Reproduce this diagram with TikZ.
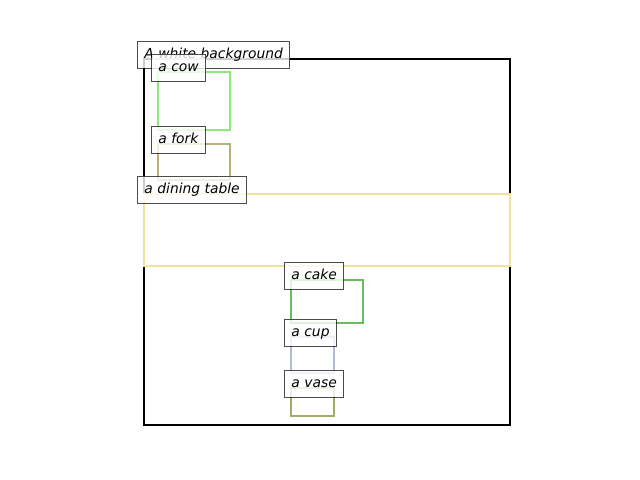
\documentclass[tikz,border=0pt]{standalone}
\usepackage{fontspec}
\setmainfont{DejaVu Sans}
\usepackage{tikz}
\definecolor{CowGreen}{RGB}{140,232,122}
\definecolor{ForkKhaki}{RGB}{184,176,118}
\definecolor{TableYellow}{RGB}{240,228,150}
\definecolor{CakeGreen}{RGB}{104,190,92}
\definecolor{CupBlue}{RGB}{178,186,214}
\definecolor{VaseOlive}{RGB}{162,172,102}
\tikzset{
every picture/.style={x=0.01in, y=-0.01in},
objbox/.style={line width=1.5pt},
tag/.style={anchor=base west, xshift=-5pt, draw=black, draw opacity=0.7, fill=white, fill opacity=0.8, text opacity=1, line width=0.7pt, inner xsep=5pt, inner ysep=4pt, text height=9pt, text depth=2.5pt, font=\itshape\fontsize{10pt}{12pt}\selectfont}
}

\begin{document}
\begin{tikzpicture}
\useasboundingbox (0,0) rectangle (640,480);
%Boxes
\draw[objbox, black] (144,59) coordinate (bg) rectangle (510,425);
\draw[objbox, CowGreen] (158,72) coordinate (cow) rectangle (230,130);
\draw[objbox, ForkKhaki] (158,144) coordinate (fork) rectangle (230,180);
\draw[objbox, TableYellow] (144,194) coordinate (table) rectangle (510,266);
\draw[objbox, CakeGreen] (291,280) coordinate (cake) rectangle (363,323);
\draw[objbox, CupBlue] (291,337) coordinate (cup) rectangle (334,373);
\draw[objbox, VaseOlive] (291,388) coordinate (vase) rectangle (334,416);

%Labels
\node[tag] (bglabel) at (bg) {A white background};
\node[tag] (cowlabel) at (cow) {a cow};
\node[tag] (forklabel) at (fork) {a fork};
\node[tag] (tablelabel) at (table) {a dining table};
\node[tag] (cakelabel) at (cake) {a cake};
\node[tag] (cuplabel) at (cup) {a cup};
\node[tag] (vaselabel) at (vase) {a vase};

\end{tikzpicture}
\end{document}
